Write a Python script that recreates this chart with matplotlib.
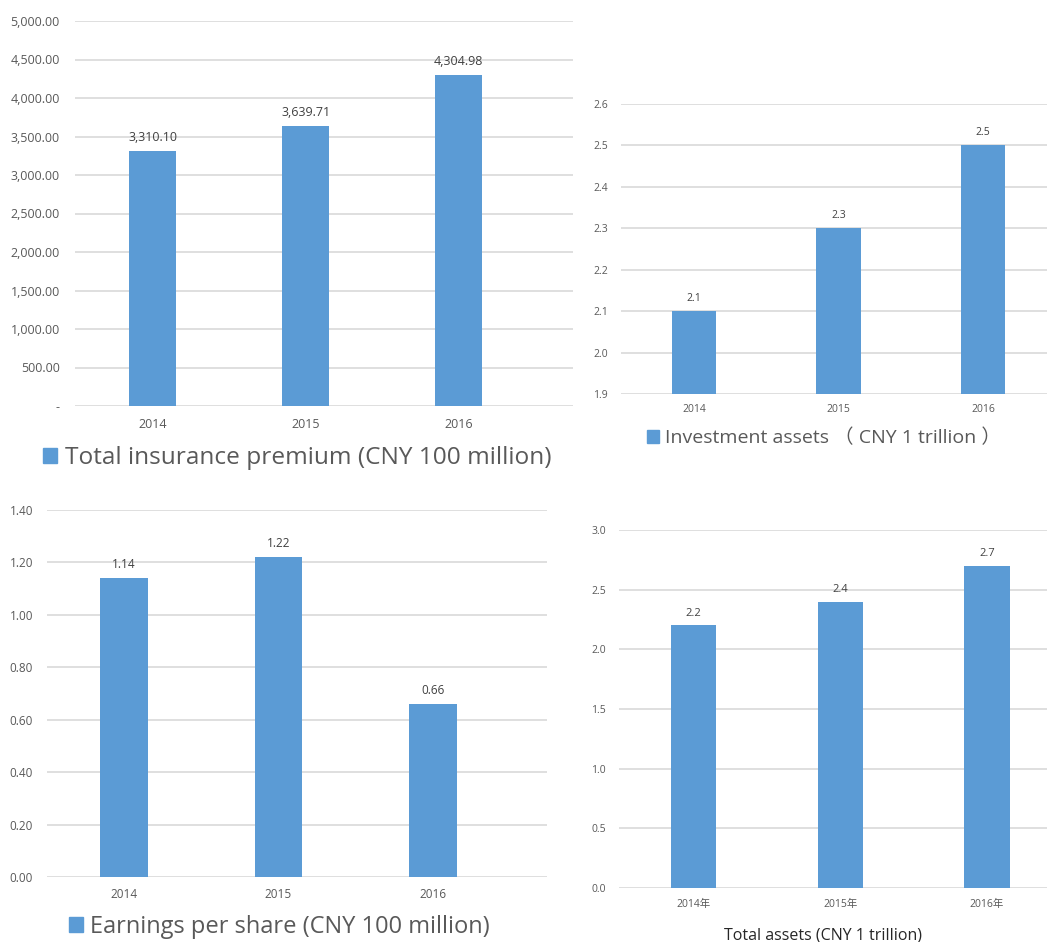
import matplotlib
matplotlib.use("Agg")
import matplotlib.pyplot as plt
from matplotlib.ticker import FuncFormatter
from matplotlib.patches import Patch

plt.rcParams['font.family'] = ['Open Sans', 'Noto Sans CJK TC', 'DejaVu Sans']

years = ["2014", "2015", "2016"]
years_cn = ["2014年", "2015年", "2016年"]
premium = [3310.10, 3639.71, 4304.98]
invest = [2.1, 2.3, 2.5]
eps = [1.14, 1.22, 0.66]
assets = [2.2, 2.4, 2.7]

BLUE = "#5B9BD5"
TXT = "#595959"
GRID = "#D9D9D9"
W, H = 1047, 942

fig = plt.figure(figsize=(W / 100, H / 100), dpi=100)


def add_ax(left, top, right, bottom):
    return fig.add_axes([left / W, 1 - bottom / H, (right - left) / W, (bottom - top) / H])


def style(ax, ylim, step, fmt, xlim, cats, tick_fs, lab_fs, lab_fmt, vals, pad, ypad):
    x = range(len(vals))
    ax.bar(x, vals, width=0.31, color=BLUE, zorder=2)
    ax.set_ylim(*ylim)
    ax.set_xlim(*xlim)
    n = round((ylim[1] - ylim[0]) / step)
    ax.set_yticks([ylim[0] + i * step for i in range(n + 1)])
    ax.yaxis.set_major_formatter(FuncFormatter(fmt))
    ax.set_xticks(list(x))
    ax.set_xticklabels(cats)
    ax.tick_params(length=0, colors=TXT, labelsize=tick_fs)
    ax.tick_params(axis='x', pad=pad)
    ax.tick_params(axis='y', pad=ypad)
    ax.grid(axis='y', color=GRID, linewidth=1.2, zorder=0)
    for s in ax.spines.values():
        s.set_visible(False)
    for xi, v in zip(x, vals):
        ax.annotate(lab_fmt(v), (xi, v), xytext=(0, 5), textcoords="offset points",
                    ha="center", va="bottom", fontsize=lab_fs, color="#404040")


def legend(ax, label, cx, cy, fs):
    ax.legend([Patch(color=BLUE)], [label], loc="center", bbox_to_anchor=(cx / W, 1 - cy / H),
              bbox_transform=fig.transFigure, frameon=False, fontsize=fs,
              handlelength=0.6, handleheight=0.6, handletextpad=0.3, labelcolor=TXT)


# top-left: total insurance premium
ax1 = add_ax(75, 21, 573, 406)
style(ax1, (0, 5000), 500, lambda v, p: "-" if v == 0 else f"{v:,.2f}",
      (-0.507, 2.748), years, 9, 9, lambda v: f"{v:,.2f}", premium, 9, 11)
legend(ax1, "Total insurance premium (CNY 100 million)", 297, 458, 17.6)

# top-right: investment assets
ax2 = add_ax(621, 104, 1047, 394)
style(ax2, (1.9, 2.6), 0.1, lambda v, p: f"{v:.1f}",
      (-0.505, 2.443), years, 7.5, 7.5, lambda v: f"{v:.1f}", invest, 7, 9.5)
legend(ax2, "Investment assets （ CNY 1 trillion ）", 824, 438, 14)

# bottom-left: earnings per share
ax3 = add_ax(47, 510, 547, 877)
style(ax3, (0, 1.4), 0.2, lambda v, p: f"{v:.2f}",
      (-0.498, 2.738), years, 8.5, 8.5, lambda v: f"{v:.2f}", eps, 8, 10)
legend(ax3, "Earnings per share (CNY 100 million)", 279, 927, 17)

# bottom-right: total assets
ax4 = add_ax(619, 530, 1047, 888)
style(ax4, (0, 3.0), 0.5, lambda v, p: f"{v:.1f}",
      (-0.508, 2.409), years_cn, 7.5, 8, lambda v: f"{v:.1f}", assets, 8, 9.5)
fig.text(823 / W, 1 - 935 / H, "Total assets (CNY 1 trillion)", ha="center", va="center",
         fontsize=11.5, color="#262626")

fig.savefig("out.png", dpi=100)
